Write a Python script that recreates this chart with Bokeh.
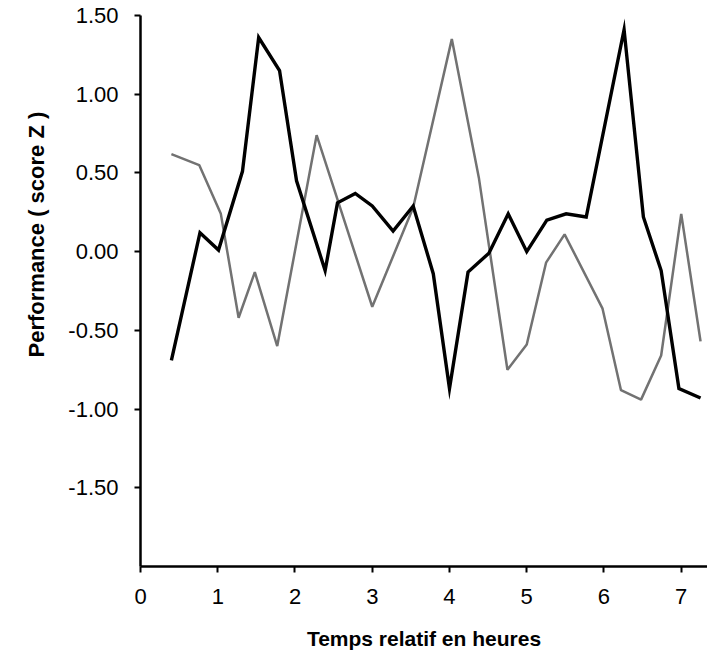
from bokeh.plotting import figure
from bokeh.models import FixedTicker, Range1d, Title
from bokeh.embed import file_html
from bokeh.resources import INLINE

# Time (hours) and z-scores, solid black series
t_solid = [0.40, 0.77, 1.01, 1.32, 1.53, 1.80, 2.02, 2.39, 2.55, 2.78, 3.00, 3.27,
           3.53, 3.79, 4.00, 4.24, 4.51, 4.76, 5.00, 5.26, 5.51, 5.77, 6.26, 6.51,
           6.74, 6.97, 7.25]
z_solid = [-0.69, 0.12, 0.01, 0.51, 1.36, 1.15, 0.45, -0.12, 0.31, 0.37, 0.29, 0.13,
           0.29, -0.14, -0.87, -0.13, -0.01, 0.24, 0.00, 0.20, 0.24, 0.22, 1.41, 0.22,
           -0.12, -0.87, -0.93]

# Grey (dotted) series
t_grey = [0.40, 0.76, 1.04, 1.27, 1.48, 1.77, 2.28, 3.00, 3.53, 4.03, 4.38, 4.75,
          5.00, 5.25, 5.49, 5.98, 6.22, 6.48, 6.74, 7.00, 7.25]
z_grey = [0.62, 0.55, 0.24, -0.42, -0.13, -0.60, 0.74, -0.35, 0.28, 1.35, 0.47, -0.75,
          -0.59, -0.07, 0.11, -0.36, -0.88, -0.94, -0.66, 0.24, -0.57]

x_ticks = [0, 1, 2, 3, 4, 5, 6, 7]
x_tick_labels = ["0", "1", "2", "3", "4", "5", "6", "7"]
y_ticks = [-1.5, -1.0, -0.5, 0.0, 0.5, 1.0, 1.5]
y_tick_labels = ["-1.50", "-1.00", "-0.50", "0.00", "0.50", "1.00", "1.50"]

x_title = "Temps relatif en heures"
y_title = "Performance   ( score Z )"

FONT = "Liberation Sans"

p = figure(width=707, height=662, output_backend="svg", toolbar_location=None,
           x_range=Range1d(0, 7.34), y_range=Range1d(-2.0, 1.5),
           min_border_left=140, min_border_right=0, min_border_top=15, min_border_bottom=96)
p.outline_line_color = None
p.background_fill_color = "white"
p.border_fill_color = "white"
p.grid.visible = False

p.line(t_grey, z_grey, line_color="#727272", line_width=2.5)
p.line(t_solid, z_solid, line_color="black", line_width=3.4, line_join="miter")

for ax in (p.xaxis[0], p.yaxis[0]):
    ax.axis_line_width = 2.5
    ax.axis_line_color = "black"
    ax.major_tick_line_width = 2
    ax.major_tick_line_color = "black"
    ax.major_tick_in = 0
    ax.major_tick_out = 6
    ax.minor_tick_line_color = None
    ax.major_label_text_font = FONT
    ax.major_label_text_font_size = "22px"
    ax.major_label_text_color = "black"

p.xaxis.ticker = FixedTicker(ticks=x_ticks)
p.xaxis.major_label_overrides = dict(zip(x_ticks, x_tick_labels))
p.xaxis.major_label_standoff = 16
p.xaxis.axis_label = x_title
p.xaxis.axis_label_standoff = 20
p.xaxis.axis_label_text_font = FONT
p.xaxis.axis_label_text_font_style = "bold"
p.xaxis.axis_label_text_font_size = "21px"
p.xaxis.axis_label_text_color = "black"

p.yaxis.ticker = FixedTicker(ticks=y_ticks)
p.yaxis.major_label_standoff = 16
p.yaxis.major_label_overrides = dict(zip(y_ticks, y_tick_labels))

p.add_layout(Title(text=y_title, align="right", offset=84, standoff=34,
                   text_font=FONT, text_font_style="bold", text_font_size="22px",
                   text_color="black"), "left")

open("out.html", "w").write(file_html(p, INLINE))
